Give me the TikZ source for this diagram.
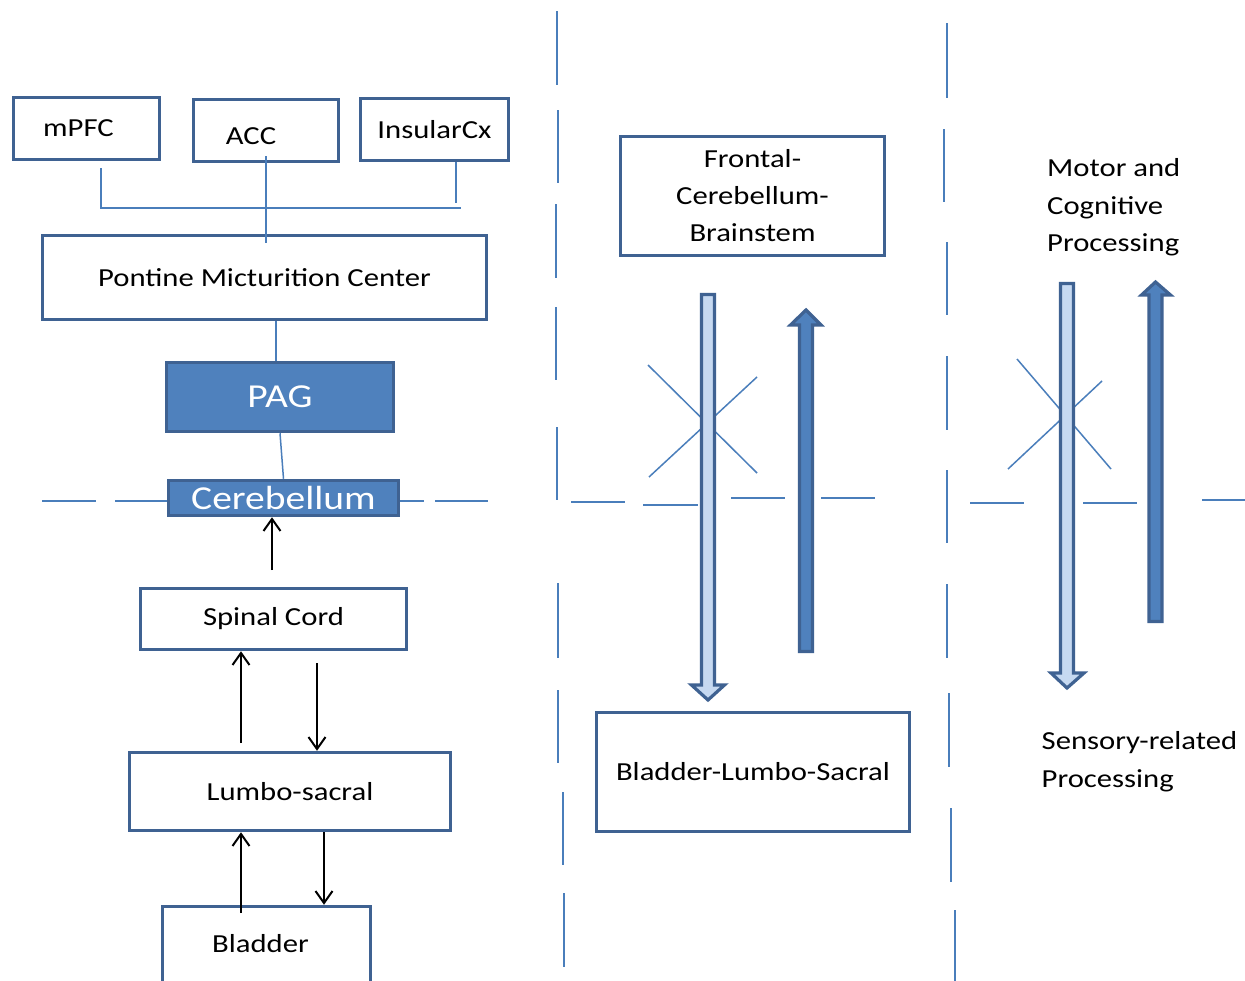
\documentclass[tikz,border=0pt]{standalone}
\usepackage{fontspec}
\setmainfont{Carlito}[FakeStretch=1.18]
\usetikzlibrary{arrows.meta,calc}
\definecolor{bordc}{RGB}{63,98,146}
\definecolor{bluef}{RGB}{79,129,189}
\definecolor{lightf}{RGB}{198,217,241}
\definecolor{linec}{RGB}{74,126,187}
\begin{document}
\begin{tikzpicture}[x=1pt,y=-1pt,
  box/.style={draw=bordc, line width=3.5pt, fill=white, rectangle, inner sep=0pt,
    font=\fontsize{26}{37}\selectfont, text=black, align=center},
  bluebox/.style={box, fill=bluef, text=white, font=\fontsize{33.5}{38}\selectfont},
  bline/.style={draw=linec, line width=1.5pt},
  divline/.style={draw=linec, line width=2pt},
  arr/.style={draw=black, line width=2pt, -{Straight Barb[length=12pt,width=17pt]}},
  blockarrow/.style={draw=bordc, line width=3.2pt, line join=miter},
  lbl/.style={font=\fontsize{26}{37.5}\selectfont, align=left, inner sep=0pt, text=black}
]
\clip (0,0) rectangle (1245,980);
\fill[white] (0,0) rectangle (1245,980);

% vertical dividers
\foreach \xa/\ya/\xb/\yb in {557/11/557/85, 558/110/558/183, 556/204/556/278, 556/307/556/380,
  557/427/557/500, 558/583/558/658, 558/690/558/763, 563/792/563/865, 564/893/564/967,
  947/23/947/98, 944/129/944/202, 947/242/947/315, 947/356/947/430, 947/470/947/543,
  947/584/947/658, 949/693/949/767, 951/808/951/882, 955/910/955/985}
  \draw[divline] (\xa,\ya) -- (\xb,\yb);

% horizontal dashes
\foreach \xa/\ya/\xb/\yb in {42/501/96/501, 115/501/167/501, 400/501/424/501, 435/501/488/501,
  571/502/625/502, 643/505/698/505, 731/498/785/498, 821/498/875/498,
  970/503/1024/503, 1083/503/1137/503, 1202/500/1250/500}
  \draw[divline] (\xa,\ya) -- (\xb,\yb);

% boxes, left panel
\node[box, minimum width=146pt, minimum height=62pt] (mpfc) at (86.5,128.5)
  {\hspace*{-8pt}mPFC\hspace*{8pt}};
\node[box, minimum width=145pt, minimum height=62pt] (acc) at (266,130.5)
  {\hspace*{-15pt}\raisebox{-6pt}[\height][\depth]{ACC}\hspace*{15pt}};
\node[box, minimum width=148pt, minimum height=62pt] (insular) at (434.5,129.5) {InsularCx};
\node[box, minimum width=444pt, minimum height=84pt] (pmc) at (264.5,277.5) {Pontine Micturition Center};
\node[bluebox, minimum width=227pt, minimum height=69pt] (pag) at (280,397) {PAG};
\node[bluebox, minimum width=230pt, minimum height=35pt] (cereb) at (283.5,498) {Cerebellum};
\node[box, minimum width=266pt, minimum height=61pt] (spinal) at (273.5,619) {Spinal Cord};
\node[box, minimum width=321pt, minimum height=78pt] (lumbo) at (290,791.5) {Lumbo-sacral};
\node[box, minimum width=208pt, minimum height=103pt] (bladder) at (266.5,958)
  {\hspace*{-6pt}\raisebox{14pt}[\height][\depth]{Bladder}\hspace*{6pt}};

% middle panel boxes
\node[box, minimum width=264pt, minimum height=119pt] (fcb) at (752.5,196)
  {Frontal-\\Cerebellum-\\Brainstem};
\node[box, minimum width=313pt, minimum height=119pt] (bls) at (753,772) {Bladder-Lumbo-Sacral};

% right panel labels
\node[lbl, anchor=north west] (motor) at (1047,158.5) {Motor and\\Cognitive\\Processing};
\node[lbl, anchor=north west] (sensory) at (1041.5,731.5) {Sensory-related\\Processing};

% thin blue connectors
\coordinate (busL) at (101,208);
\coordinate (busR) at (461,208);
\coordinate (insB) at (456,203);
\draw[bline] ($(mpfc.south -| busL)+(0,7)$) -- (busL) -- (busR);
\draw[bline] (insular.south -| insB) -- (insB);
\draw[bline] ($(acc.south)+(0,-7)$) -- ($(pmc.north -| acc.south)+(0,9)$);
\draw[bline] (pmc.south -| 276,0) -- (pag.north -| 276,0);
\draw[bline] (pag.south) -- (cereb.north);

% black arrows
\coordinate (a0) at (272,570);
\coordinate (a1) at (241,743);
\coordinate (a2) at (317,663);
\coordinate (a3) at (241,913);
\draw[arr] (a0) -- (cereb.south -| a0);
\draw[arr] (a1) -- (spinal.south -| a1);
\draw[arr] (a2) -- (lumbo.north -| a2);
\draw[arr] (a3) -- (lumbo.south -| a3);
\draw[arr] (lumbo.south -| 324,0) -- (bladder.north -| 324,0);

% crosses
\draw[bline] (648,365) -- (757,473);
\draw[bline] (649,477) -- (757,377);
\draw[bline] (1017,359) -- (1111,469);
\draw[bline] (1008,469) -- (1102,381);

% block arrows, middle panel
\draw[blockarrow, fill=lightf] (701.5,294.5) -- (714.5,294.5) -- (714.5,685) -- (724.5,685)
  -- (708,700) -- (691.5,685) -- (701.5,685) -- cycle;
\draw[blockarrow, fill=bluef] (799.5,651.5) -- (812.5,651.5) -- (812.5,325) -- (821,325)
  -- (806,310) -- (790.5,325) -- (799.5,325) -- cycle;

% block arrows, right panel
\draw[blockarrow, fill=lightf] (1060.5,283.5) -- (1073.5,283.5) -- (1073.5,673) -- (1084,673)
  -- (1067,688) -- (1051,673) -- (1060.5,673) -- cycle;
\draw[blockarrow, fill=bluef] (1149,621.5) -- (1162,621.5) -- (1162,295) -- (1170.5,295)
  -- (1155.5,282) -- (1141.5,295) -- (1149,295) -- cycle;
\end{tikzpicture}
\end{document}
